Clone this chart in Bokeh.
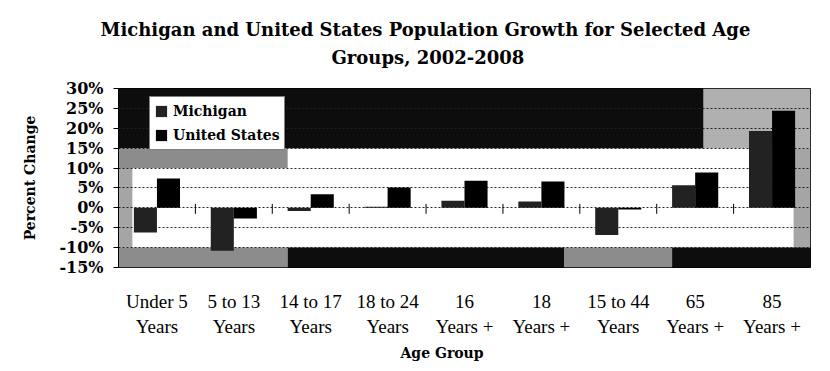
from bokeh.plotting import figure
from bokeh.models import (FactorRange, Range1d, BoxAnnotation, Legend, LegendItem,
                          Title, PrintfTickFormatter, FixedTicker, ColumnDataSource)
from bokeh.transform import dodge
from bokeh.embed import file_html
from bokeh.resources import INLINE

# ---- data ----
categories = ["Under 5\nYears", "5 to 13\nYears", "14 to 17\nYears", "18 to 24\nYears",
              "16\nYears +", "18\nYears +", "15 to 44\nYears", "65\nYears +", "85\nYears +"]
michigan = [-6.2, -10.8, -0.8, 0.3, 1.8, 1.6, -6.8, 5.7, 19.3]
united_states = [7.4, -2.7, 3.4, 5.1, 6.8, 6.6, -0.4, 8.9, 24.4]
y_ticks = [-15, -10, -5, 0, 5, 10, 15, 20, 25, 30]
series_names = ["Michigan", "United States"]
title_lines = ["Michigan and United States Population Growth for Selected Age",
               "Groups, 2002-2008"]
x_title = "Age Group"
y_title = "Percent Change"

SERIF = "Liberation Serif"
BSERIF = "DejaVu Serif"

source = ColumnDataSource(dict(cat=categories, mi=michigan, us=united_states))

p = figure(width=830, height=371, x_range=FactorRange(*categories),
           y_range=Range1d(y_ticks[0], y_ticks[-1]),
           output_backend="svg", toolbar_location=None,
           min_border_left=118, min_border_right=20,
           min_border_top=88, min_border_bottom=104)
p.title = None
p.background_fill_color = "white"
p.border_fill_color = "white"
p.outline_line_color = "black"
p.outline_line_width = 1

# background bands (scanned gradient look)
bands = [
    dict(left=0, right=7.61, bottom=15, top=30, c="#0d0d0d"),
    dict(left=7.61, right=9, bottom=15, top=30, c="#b0b0b0"),
    dict(left=0, right=2.2, bottom=10, top=15, c="#8c8c8c"),
    dict(left=0, right=0.18, bottom=-10, top=10, c="#a5a5a5"),
    dict(left=8.78, right=9, bottom=-10, top=15, c="#a5a5a5"),
    dict(left=0, right=2.2, bottom=-15, top=-10, c="#8c8c8c"),
    dict(left=2.2, right=5.8, bottom=-15, top=-10, c="#0d0d0d"),
    dict(left=5.8, right=7.2, bottom=-15, top=-10, c="#8c8c8c"),
    dict(left=7.2, right=9, bottom=-15, top=-10, c="#0d0d0d"),
]
for b in bands:
    p.add_layout(BoxAnnotation(left=b["left"], right=b["right"], bottom=b["bottom"], top=b["top"],
                               fill_color=b["c"], fill_alpha=1, line_color=None, level="image"))

r_mi = p.vbar(x=dodge("cat", -0.15, range=p.x_range), top="mi", bottom=0, width=0.3,
              source=source, fill_color="#222222", line_color=None)
r_us = p.vbar(x=dodge("cat", 0.15, range=p.x_range), top="us", bottom=0, width=0.3,
              source=source, fill_color="#000000", line_color=None)

# category-boundary tick marks on the zero line
bounds = list(range(1, len(categories)))
p.segment(x0=bounds, x1=bounds, y0=[-1.5] * len(bounds), y1=[1.0] * len(bounds),
          line_color="black", line_width=1)

# grid
p.xgrid.grid_line_color = None
p.ygrid.ticker = FixedTicker(ticks=y_ticks)
p.ygrid.grid_line_color = "#222222"
p.ygrid.grid_line_dash = "2 2"
p.ygrid.grid_line_width = 1

# y axis
p.yaxis.ticker = FixedTicker(ticks=y_ticks)
p.yaxis.formatter = PrintfTickFormatter(format="%d%%")
p.yaxis.major_label_text_font = BSERIF
p.yaxis.major_label_text_font_style = "bold"
p.yaxis.major_label_text_font_size = "16px"
p.yaxis.major_label_text_color = "black"
p.yaxis.major_tick_out = 5
p.yaxis.major_tick_in = 0
p.yaxis.minor_tick_line_color = None
p.yaxis.major_label_standoff = 10
p.yaxis.axis_line_color = "black"
p.yaxis.axis_label = y_title
p.yaxis.axis_label_text_font = BSERIF
p.yaxis.axis_label_text_font_style = "bold"
p.yaxis.axis_label_text_font_size = "14px"
p.yaxis.axis_label_text_color = "black"
p.yaxis.axis_label_standoff = 18

# x axis
p.xaxis.axis_line_color = None
p.xaxis.major_tick_line_color = None
p.xaxis.minor_tick_line_color = None
p.xaxis.major_label_text_font = SERIF
p.xaxis.major_label_text_font_size = "19px"
p.xaxis.major_label_text_color = "black"
p.xaxis.major_label_standoff = 17

# two-line title (left aligned with offsets so that both lines are centred at x~427)
t2 = Title(text=title_lines[1], align="left", offset=213, standoff=42,
           text_font=BSERIF, text_font_style="bold", text_font_size="18px",
           text_color="black")
t1 = Title(text=title_lines[0], align="left", offset=-18, standoff=-33,
           text_font=BSERIF, text_font_style="bold", text_font_size="18px",
           text_color="black")
p.add_layout(t2, "above")
p.add_layout(t1, "above")

# x axis title
tx = Title(text=x_title, align="left", offset=282, standoff=6,
           text_font=BSERIF, text_font_style="bold", text_font_size="14px",
           text_color="black")
p.add_layout(tx, "below")

legend = Legend(items=[LegendItem(label=series_names[0], renderers=[r_mi]),
                       LegendItem(label=series_names[1], renderers=[r_us])],
                location=(31, 117), label_text_font=BSERIF, label_text_font_style="bold",
                label_text_font_size="14px", label_text_color="black",
                glyph_width=14, glyph_height=14, label_height=20, label_standoff=5,
                spacing=4, padding=4, margin=0,
                border_line_color="black", border_line_width=1,
                background_fill_color="white", background_fill_alpha=1)
p.add_layout(legend)

open("out.html", "w").write(file_html(p, INLINE))
